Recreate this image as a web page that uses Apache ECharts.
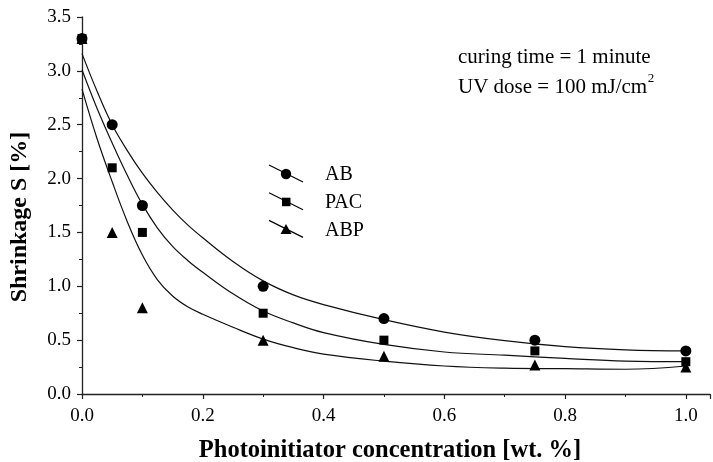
<!DOCTYPE html>
<html>
<head>
<meta charset="utf-8">
<title></title>
<script src="https://cdn.jsdelivr.net/npm/echarts@6/dist/echarts.min.js"></script>
</head>
<body style="margin:0;background:#fff">
<div id="main" style="width:713px;height:462px;"></div>
<script type="text/javascript">
// measured points
var conc = [0, 0.05, 0.1, 0.3, 0.5, 0.75, 1.0];
var abPts = [3.3, 2.5, 1.75, 1.0, 0.7, 0.5, 0.4];
var pacPts = [3.3, 2.1, 1.5, 0.75, 0.5, 0.4, 0.3];
var abpPts = [3.3, 1.5, 0.8, 0.5, 0.35, 0.27, 0.25];

// fitted curves
var fitX = [0, 0.025, 0.05, 0.075, 0.1, 0.125, 0.15, 0.175, 0.2, 0.25, 0.3, 0.35, 0.4, 0.5, 0.6, 0.7, 0.8, 0.9, 1.0];
var abFit = [3.16, 2.81, 2.50, 2.26, 2.05, 1.87, 1.71, 1.57, 1.45, 1.23, 1.05, 0.92, 0.83, 0.69, 0.575, 0.495, 0.44, 0.41, 0.40];
var pacFit = [3.01, 2.65, 2.33, 2.03, 1.76, 1.54, 1.37, 1.24, 1.13, 0.93, 0.77, 0.66, 0.57, 0.46, 0.39, 0.36, 0.33, 0.305, 0.30];
var abpFit = [2.83, 2.37, 1.97, 1.60, 1.29, 1.06, 0.91, 0.81, 0.74, 0.62, 0.51, 0.43, 0.37, 0.305, 0.26, 0.24, 0.235, 0.23, 0.26];

var names = ['AB', 'PAC', 'ABP'];
var symbols = ['circle', 'rect', 'triangle'];
var symSizes = [11, 9, 11];

var font = 'Liberation Serif';

function pairs(xs, ys) {
  return xs.map(function (x, i) { return [x, ys[i]]; });
}

var myChart = echarts.init(document.getElementById('main'));

var series = [];
[abFit, pacFit, abpFit].forEach(function (f) {
  series.push({
    type: 'line',
    data: pairs(fitX, f),
    smooth: 0.4,
    showSymbol: false,
    silent: true,
    lineStyle: { color: '#111', width: 1.2 },
    z: 2
  });
});
[abpPts, pacPts, abPts].forEach(function (p, k) {
  var i = 2 - k;
  series.push({
    name: names[i],
    type: 'scatter',
    data: pairs(conc, p),
    symbol: symbols[i],
    symbolSize: symSizes[i],
    itemStyle: { color: '#000', opacity: 1 },
    z: 3 + k
  });
});

// legend drawn as diagonal line + marker + label
var graphics = [];
names.forEach(function (n, i) {
  var cy = 174 + i * 27.7;
  graphics.push({
    type: 'line',
    shape: { x1: 269, y1: cy - 9, x2: 303, y2: cy + 8 },
    style: { stroke: '#000', lineWidth: 1.2 }
  });
  if (symbols[i] === 'circle') {
    graphics.push({ type: 'circle', shape: { cx: 286, cy: cy, r: 5.2 }, style: { fill: '#000' } });
  } else if (symbols[i] === 'rect') {
    graphics.push({ type: 'rect', shape: { x: 282, y: cy - 4, width: 8.5, height: 8.5 }, style: { fill: '#000' } });
  } else {
    graphics.push({ type: 'polygon', shape: { points: [[286, cy - 5.5], [280.5, cy + 4.5], [291.5, cy + 4.5]] }, style: { fill: '#000' } });
  }
  graphics.push({
    type: 'text',
    style: { text: n, x: 325, y: cy + 1, fill: '#000', font: '20px "' + font + '"', verticalAlign: 'middle' }
  });
});

// annotation, with a superscript 2 placed after the measured text
var noteFont = '21px "' + font + '"';
var doseText = 'UV dose = 100 mJ/cm';
var ctx = document.createElement('canvas').getContext('2d');
ctx.font = noteFont;
var doseW = ctx.measureText(doseText).width;

graphics.push({
  type: 'text',
  style: { text: 'curing time = 1 minute', x: 458, y: 57, fill: '#000', font: noteFont, verticalAlign: 'middle' }
});
graphics.push({
  type: 'text',
  style: { text: doseText, x: 458, y: 87, fill: '#000', font: noteFont, verticalAlign: 'middle' }
});
graphics.push({
  type: 'text',
  style: { text: '2', x: 458 + doseW + 0.5, y: 78.5, fill: '#000', font: '13px "' + font + '"', verticalAlign: 'middle' }
});
graphics.push({
  type: 'text',
  style: { text: 'Photoinitiator concentration [wt. %]', x: 390, y: 451, fill: '#000', font: 'bold 24.5px "' + font + '"', align: 'center', verticalAlign: 'middle' }
});
graphics.push({
  type: 'text',
  x: 20, y: 217, rotation: Math.PI / 2,
  style: { text: 'Shrinkage S [%]', x: 0, y: 0, fill: '#000', font: 'bold 24px "' + font + '"', align: 'center', verticalAlign: 'middle' }
});

option = {
  backgroundColor: '#fff',
  animation: false,
  grid: { left: 82, right: 1, top: 17, bottom: 68 },
  xAxis: {
    type: 'value',
    min: 0,
    max: 1.04,
    interval: 0.2,
    splitLine: { show: false },
    axisLine: { lineStyle: { color: '#222', width: 1.3 } },
    axisTick: { length: 5, lineStyle: { color: '#222', width: 1.2 } },
    minorTick: { show: true, splitNumber: 2, length: 3, lineStyle: { color: '#222', width: 1 } },
    axisLabel: {
      margin: 13,
      color: '#000',
      fontFamily: font,
      fontSize: 19,
      formatter: function (v) { return v > 1.001 ? '' : v.toFixed(1); }
    }
  },
  yAxis: {
    type: 'value',
    min: 0,
    max: 3.5,
    interval: 0.5,
    splitLine: { show: false },
    axisLine: { show: true, lineStyle: { color: '#222', width: 1.3 } },
    axisTick: { show: true, length: 5, lineStyle: { color: '#222', width: 1.2 } },
    minorTick: { show: true, splitNumber: 2, length: 3, lineStyle: { color: '#222', width: 1 } },
    axisLabel: {
      margin: 11,
      color: '#000',
      fontFamily: font,
      fontSize: 19,
      formatter: function (v) { return v.toFixed(1); }
    }
  },
  graphic: graphics,
  series: series
};
myChart.setOption(option);
</script>
</body>
</html>
